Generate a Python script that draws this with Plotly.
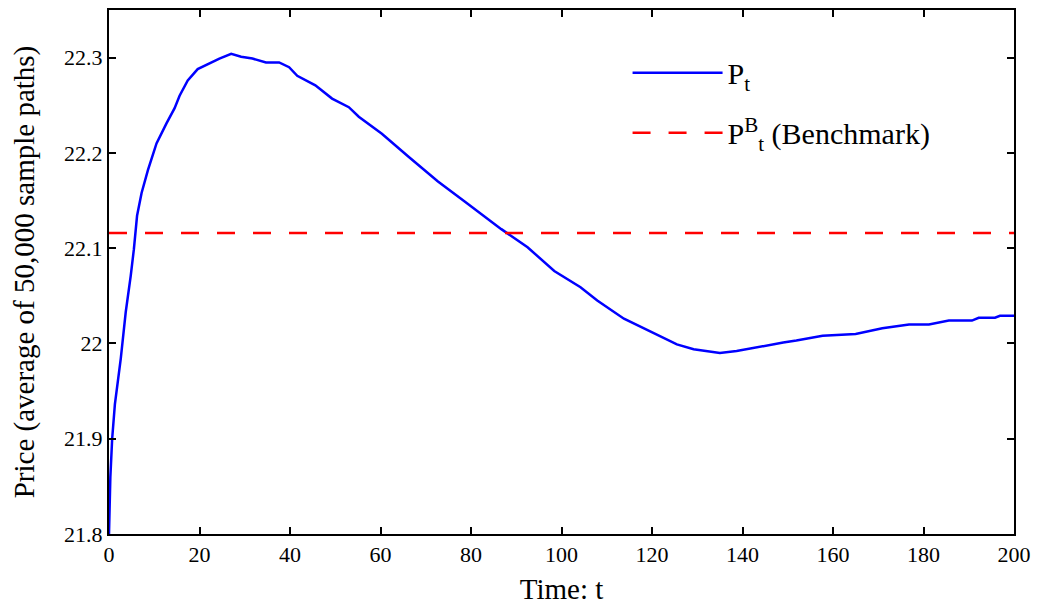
import plotly.graph_objects as go

# Values
t = [0, 0.3, 0.7, 1.3, 2.6, 3.7, 4.8, 5.5, 6.2, 7.2, 8.6, 10.5, 12.7, 14.5, 15.6,
     17.4, 19.6, 21.8, 24.4, 27.0, 29.2, 31.7, 34.7, 37.6, 39.8, 41.6, 45.6,
     49.3, 53.0, 55.2, 60.3, 66.2, 72.7, 78.6, 86.7, 92.5, 98.4, 104.2, 107.9,
     113.8, 125.5, 129.2, 135.0, 138.7, 143.1, 149.0, 151.9, 157.7, 165.0,
     170.9, 176.8, 181.2, 185.6, 190.7, 192.2, 195.8, 196.9, 200]
price = [21.80, 21.86, 21.90, 21.936, 21.984, 22.033, 22.071, 22.099, 22.134,
         22.158, 22.182, 22.210, 22.231, 22.247, 22.260, 22.276, 22.288, 22.293,
         22.299, 22.304, 22.301, 22.299, 22.295, 22.295, 22.290, 22.281, 22.271,
         22.257, 22.248, 22.238, 22.220, 22.196, 22.170, 22.149, 22.120, 22.101,
         22.076, 22.059, 22.045, 22.026, 21.999, 21.994, 21.990, 21.992, 21.996,
         22.001, 22.003, 22.008, 22.010, 22.016, 22.020, 22.020, 22.024, 22.024,
         22.027, 22.027, 22.029, 22.029]

bench_t = [0, 200]
bench_price = [22.116, 22.116]

font = "Liberation Serif, serif"

fig = go.Figure()
fig.add_trace(go.Scatter(
    x=t, y=price, mode="lines", name="P<sub>t</sub>", legendgroup="a",
    line=dict(color="#0000ff", width=2.5)
))
fig.add_trace(go.Scatter(
    x=bench_t, y=bench_price, mode="lines", legendgroup="b",
    name="P<sup>B</sup><sub>t</sub> (Benchmark)",
    line=dict(color="#ff0000", width=2.5, dash="18px,18px")
))

axis_style = dict(
    showline=True, linecolor="black", linewidth=2, mirror="ticks",
    ticks="inside", ticklen=7, tickcolor="black", tickwidth=1.5,
    showgrid=False, zeroline=False,
    tickfont=dict(family=font, size=22, color="black"),
)

# page body has an 8px margin, so the figure is 16px smaller than the window
fig.update_layout(
    width=1023, height=597,
    margin=dict(l=101, r=14, t=0, b=68),
    paper_bgcolor="white", plot_bgcolor="white",
    font=dict(family=font, size=22, color="black"),
    showlegend=True,
    legend=dict(
        x=0.573, y=0.93, xanchor="left", yanchor="top",
        bgcolor="rgba(0,0,0,0)", itemwidth=90,
        tracegroupgap=18,
        font=dict(family=font, size=30, color="black"),
    ),
    xaxis=dict(axis_style, range=[0, 200], tickvals=list(range(0, 201, 20)),
               ticklabeloverflow="allow",
               title=dict(text="Time: t", font=dict(family=font, size=29),
                          standoff=17)),
    yaxis=dict(axis_style, range=[21.8, 22.35],
               tickvals=[21.8, 21.9, 22.0, 22.1, 22.2, 22.3],
               ticktext=["21.8", "21.9", "22", "22.1", "22.2", "22.3"],
               title=dict(text="Price (average of 50,000 sample paths)",
                          font=dict(family=font, size=29), standoff=21)),
)

fig.write_html("out.html")
